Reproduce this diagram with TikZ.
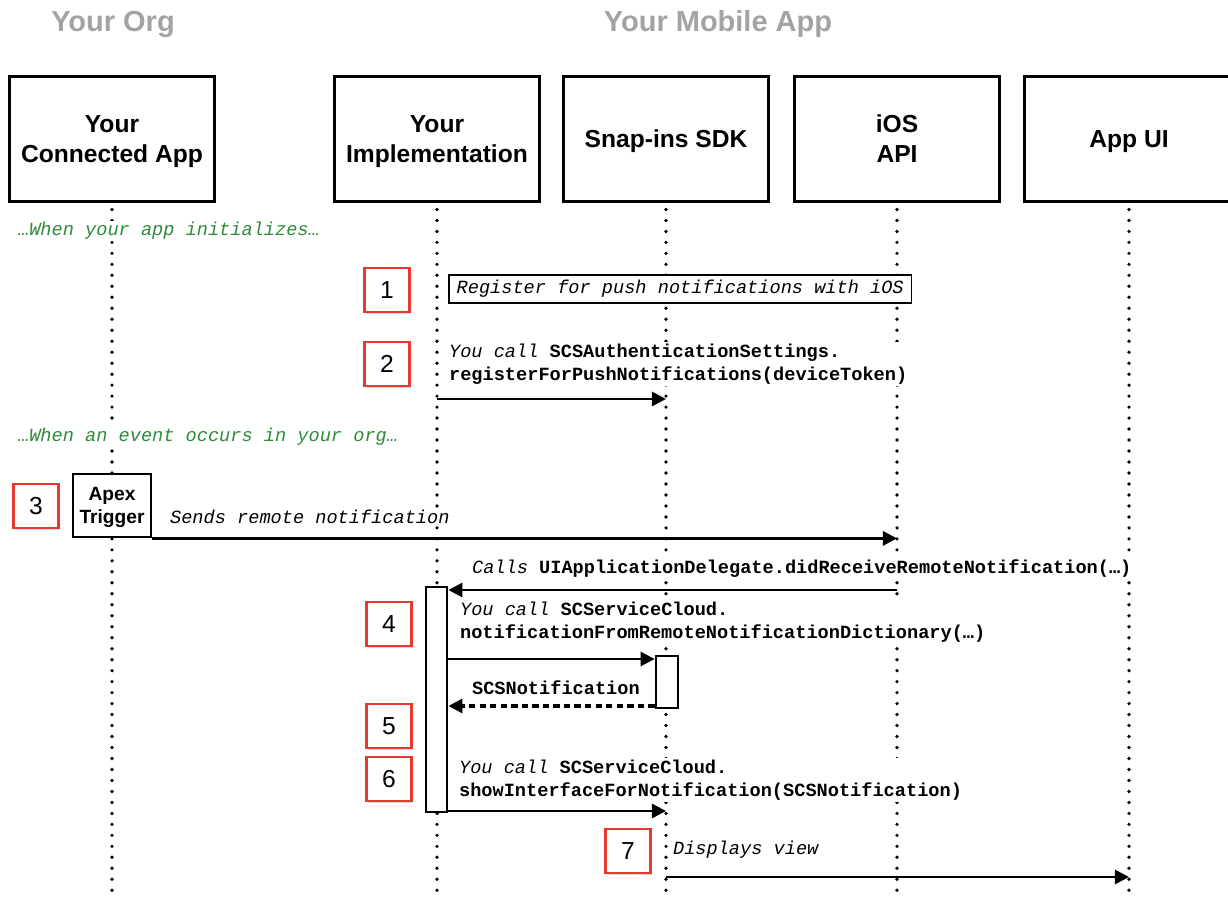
\documentclass[tikz,border=0pt]{standalone}
\usepackage{fontspec}
\setmainfont{Liberation Sans}
\setmonofont{Liberation Mono}
\usetikzlibrary{arrows.meta,shadows}
\definecolor{headgray}{HTML}{A3A3A3}
\definecolor{notegreen}{HTML}{2E8B3A}
\definecolor{badgered}{HTML}{E8392E}
\newcommand{\cname}[1]{\textbf{#1}}
\tikzset{
  heading/.style={text=headgray,font=\fontsize{16.5}{20}\selectfont\bfseries},
  actor/.style={draw,rectangle,line width=1.7pt,minimum width=4.12cm,minimum height=2.52cm,align=center,text depth=0pt,font=\fontsize{14}{17}\selectfont\bfseries},
  lifeline/.style={line width=2.1pt,line cap=round,dash pattern=on 0pt off 6.25pt,shorten <=3.4pt},
  note/.style={fill=white,inner sep=1pt,anchor=west,text=notegreen,font=\fontsize{10.6}{13}\selectfont\ttfamily\itshape},
  msgtext/.style={fill=white,inner sep=1pt,anchor=west,align=left,font=\fontsize{10.6}{13}\selectfont\ttfamily},
  badge/.style={draw=badgered,line width=1.6pt,fill=white,minimum width=0.9cm,minimum height=0.88cm,font=\fontsize{14}{16}\selectfont,drop shadow={shadow xshift=0.6pt,shadow yshift=-1.2pt,opacity=0.3}},
  activation/.style={draw,fill=white,line width=1.6pt,minimum width=0.42cm},
  msg/.style={line width=1.6pt,-{Triangle[length=8pt,width=8pt]}},
  reply/.style={msg,line width=1.8pt,dash pattern=on 3.6pt off 2.4pt}
}
\begin{document}
\begin{tikzpicture}[x=0.02cm,y=-0.02cm]
\useasboundingbox (0,0) rectangle (1228,898);
\node[heading] (orghead) at (113,24) {Your Org};
\node[heading] (apphead) at (718,24) {Your Mobile App};
\node[actor] (org) at (112,139) {Your\\Connected App};
\node[actor] (impl) at (437,139) {Your\\Implementation};
\node[actor] (sdk) at (666,139) {Snap-ins SDK};
\node[actor] (ios) at (897,139) {iOS\\API};
\node[actor,minimum width=4.2cm] (ui) at (1129,139) {App UI};
\foreach \lane in {org,impl,sdk,ios,ui}
  \draw[lifeline] (\lane.south) -- (\lane |- 0,898);
\node[note] (initnote) at (16,231) {…When your app initializes…};
\node[note] (eventnote) at (16,437) {…When an event occurs in your org…};
% registration
\node[badge] (n1) at (387,290) {1};
\node[msgtext,draw,line width=0.9pt,inner xsep=4.5pt,minimum height=0.56cm] (register) at (448,289) {\itshape Register for push notifications with iOS};
\node[badge] (n2) at (387,364) {2};
\node[msgtext] (authcall) at (447,364) {\textit{You call} \cname{SCSAuthenticationSettings.}\\\cname{registerForPushNotifications(deviceToken)}};
\draw[msg] (impl |- 0,399) -- (sdk |- 0,399);
% remote notification
\node[badge] (n3) at (36,506) {3};
\node[draw,fill=white,line width=1.6pt,minimum width=1.56cm,minimum height=1.26cm,align=center,text depth=0pt,font=\fontsize{10.9}{13}\selectfont\bfseries] (apex) at (112,505.5) {Apex\\Trigger};
\node[msgtext] (sendnote) at (168,517) {\itshape Sends remote notification};
\draw[msg] (apex.south east) -- (ios |- apex.south);
\node[msgtext] (delegate) at (470,569) {\textit{Calls} \cname{UIApplicationDelegate.didReceiveRemoteNotification(…)}};
\node[activation,minimum height=4.5cm] (implact) at (436.5,699.5) {};
\draw[msg] (ios |- 0,590) -- (implact.east |- 0,590);
\node[badge] (n4) at (389,624) {4};
\node[msgtext] (dictcall) at (458,622) {\textit{You call} \cname{SCServiceCloud.}\\\cname{notificationFromRemoteNotificationDictionary(…)}};
\node[activation,minimum width=0.44cm,minimum height=1.04cm] (sdkact) at (667,682) {};
\draw[msg] (implact.east |- 0,659) -- (sdkact.west |- 0,659);
\node[msgtext] (result) at (470,688) {\cname{SCSNotification}};
\draw[reply] (sdkact.west |- 0,706) -- (implact.east |- 0,706);
\node[badge] (n5) at (389,726) {5};
\node[badge] (n6) at (389,779) {6};
\node[msgtext] (showcall) at (457,780) {\textit{You call} \cname{SCServiceCloud.}\\\cname{showInterfaceForNotification(SCSNotification)}};
\draw[msg] (implact.east |- 0,811) -- (sdk |- 0,811);
\node[badge] (n7) at (628,851) {7};
\node[msgtext] (viewnote) at (671,850) {\itshape Displays view};
\draw[msg] (sdk |- 0,877) -- (ui |- 0,877);
\end{tikzpicture}
\end{document}
